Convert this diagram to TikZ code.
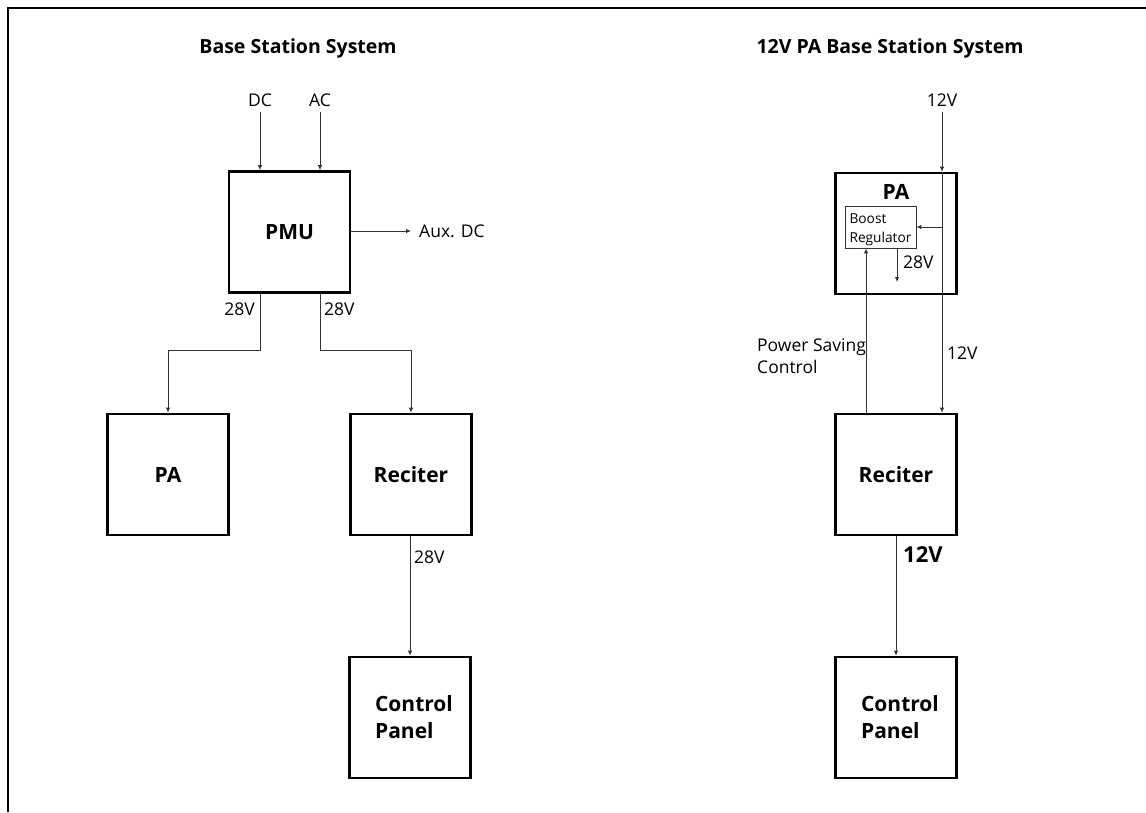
\documentclass[tikz,border=0pt]{standalone}
\usepackage{fontspec}
\setmainfont{Open Sans}
\usetikzlibrary{arrows.meta}
\tikzset{
  blk/.style={draw=black, line width=2.6pt, minimum width=121pt, minimum height=121pt, inner sep=0pt, font=\bfseries\fontsize{21}{27}\selectfont},
  subblk/.style={draw=black!80, line width=0.8pt, minimum width=71pt, minimum height=42pt, inner sep=0pt},
  subtxt/.style={inner sep=0pt, align=left, font=\fontsize{13.7}{19}\selectfont},
  conn/.style={draw=black!80, line width=0.9pt, -{Latex[length=5pt,width=4.5pt]}},
  lbl/.style={inner sep=0pt, font=\fontsize{17.5}{22}\selectfont},
  blbl/.style={inner sep=0pt, font=\bfseries\fontsize{22}{26}\selectfont},
  ttl/.style={inner sep=0pt, font=\bfseries\fontsize{19.5}{23}\selectfont},
}
\begin{document}
\begin{tikzpicture}[x=1pt,y=-1pt]
\useasboundingbox (0,0) rectangle (1146,812);
% frame
\draw[line width=2pt] (8,812) -- (8,8) -- (1146,8);

% titles
\node[ttl] (t1) at (298,48) {Base Station System};
\node[ttl] (t2) at (890,48) {12V PA Base Station System};

% ---------- left system ----------
\node[blk] (pmu) at (289.5,232) {PMU};
\node[blk] (pa) at (168,474.5) {PA};
\node[blk] (rec) at (411,474.5) {Reciter};
\node[blk, align=left] (cp) at (410,717.5) {\hspace*{8pt}Control\\\hspace*{8pt}Panel};

\node[lbl] (dc) at (260,100) {DC};
\node[lbl] (ac) at (320,100) {AC};
\coordinate (dcs) at (260,112);
\coordinate (acs) at (320,112);
\draw[conn] (dcs) -- (dcs |- pmu.north);
\draw[conn] (acs) -- (acs |- pmu.north);

\coordinate (auxe) at (411,231);
\node[lbl, anchor=west] (aux) at (419,231) {Aux. DC};
\draw[conn] (pmu.east |- auxe) -- (auxe);

\coordinate (pl) at (260,292);
\coordinate (pr) at (320,292);
\coordinate (jl) at (260,350);
\coordinate (jr) at (320,350);
\draw[conn] (pl |- pmu.south) -- (jl) -| (pa.north);
\draw[conn] (pr |- pmu.south) -- (jr) -| (rec.north);
\node[lbl, anchor=east] (v28a) at (255,309) {28V};
\node[lbl, anchor=west] (v28b) at (324,309) {28V};

\draw[conn] (rec.south -| cp.north) -- (cp.north);
\node[lbl, anchor=west] (v28c) at (414,557) {28V};

% ---------- right system ----------
\node[blk] (rpa) at (896,233.5) {};
\node[blk] (rrec) at (896,474.5) {Reciter};
\node[blk, align=left] (rcp) at (896,717.5) {\hspace*{8pt}Control\\\hspace*{8pt}Panel};
\node[inner sep=0pt, font=\bfseries\fontsize{21}{25}\selectfont] (rpal) at (896,192) {PA};
\node[subblk] (boost) at (880.5,227) {};
\node[subtxt] (boosttxt) at (880.5,229.5) {Boost\\Regulator};

\node[lbl] (v12top) at (942,100) {12V};
\coordinate (s12) at (942,112);
\draw[conn] (s12) -- (s12 |- rpa.north);
\draw[conn] (s12 |- rpa.north) -- (s12 |- rrec.north);
\draw[conn] (s12 |- boost.east) -- (boost.east);

\coordinate (o28) at (897,282);
\draw[conn] (o28 |- boost.south) -- (o28);
\node[lbl, anchor=west] (v28d) at (903,262) {28V};

\coordinate (psc) at (866,414);
\draw[conn] (psc |- rrec.north) -- (psc |- boost.south);
\node[lbl, anchor=west, align=left] (pscl) at (757,356) {Power Saving\\Control};
\node[lbl, anchor=west] (v12m) at (947,353) {12V};

\draw[conn] (rrec.south) -- (rcp.north);
\node[blbl, anchor=west] (v12b) at (903,555) {12V};
\end{tikzpicture}
\end{document}
